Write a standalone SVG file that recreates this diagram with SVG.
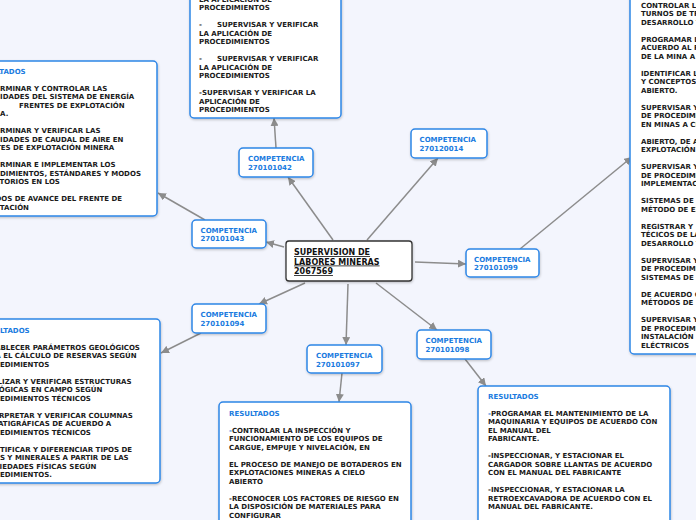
<svg xmlns="http://www.w3.org/2000/svg" width="696" height="520" viewBox="0 0 696 520">
<defs>
<style>
.box{fill:#fff;stroke:#2e86e6;stroke-width:1.5}
.main{fill:#fff;stroke:#333;stroke-width:1.3}
.t{font-family:"DejaVu Sans",Verdana,sans-serif;font-weight:bold;font-size:7px;fill:#1a1a1a}
.b{fill:#1a7be0}
.m{font-family:"DejaVu Sans",Verdana,sans-serif;font-weight:bold;font-size:8px;fill:#111;text-decoration:underline}
.c{stroke:#8c8c8c;stroke-width:1.5;fill:none;marker-end:url(#ah)}
</style>
<marker id="ah" markerUnits="userSpaceOnUse" markerWidth="8" markerHeight="8" refX="8" refY="4" orient="auto">
<path d="M0,0 L8,4 L0,8 z" fill="#8c8c8c"/>
</marker>
<filter id="sh" x="-10%" y="-10%" width="120%" height="130%">
<feDropShadow dx="0.5" dy="1.2" stdDeviation="1" flood-color="#000" flood-opacity="0.22"/>
</filter>
</defs>
<rect width="696" height="520" fill="#f3f5fd"/>

<g id="connectors">
<line class="c" x1="333" y1="240" x2="288" y2="177"/>
<line class="c" x1="284" y1="247" x2="266" y2="242"/>
<line class="c" x1="367" y1="240" x2="438" y2="158"/>
<line class="c" x1="415" y1="262" x2="466" y2="264"/>
<line class="c" x1="305" y1="283" x2="259" y2="304"/>
<line class="c" x1="348" y1="284" x2="346" y2="345"/>
<line class="c" x1="376" y1="283" x2="437" y2="330"/>
<line class="c" x1="276" y1="148" x2="274" y2="118"/>
<line class="c" x1="205" y1="220" x2="158" y2="193"/>
<line class="c" x1="520" y1="249" x2="632" y2="157"/>
<line class="c" x1="201" y1="333" x2="161" y2="353"/>
<line class="c" x1="342" y1="373" x2="339" y2="402"/>
<line class="c" x1="465" y1="359" x2="486" y2="386"/>
</g>

<g id="main">
<rect class="main" x="286" y="241" width="126" height="40" rx="3" filter="url(#sh)"/>
<text class="m" x="294" y="255">SUPERVISION DE</text>
<text class="m" x="294" y="264.5">LABORES MINERAS</text>
<text class="m" x="294" y="274">2067569</text>
</g>

<g id="c042">
<rect class="box" x="239" y="148" width="74" height="29" rx="4" filter="url(#sh)"/>
<text class="t b" x="248" y="161">COMPETENCIA</text>
<text class="t b" x="248" y="169.5">270101042</text>
</g>
<g id="c043">
<rect class="box" x="192" y="220" width="74" height="28" rx="4" filter="url(#sh)"/>
<text class="t b" x="200.5" y="233">COMPETENCIA</text>
<text class="t b" x="200.5" y="241">270101043</text>
</g>
<g id="c014">
<rect class="box" x="411" y="129" width="76" height="29" rx="4" filter="url(#sh)"/>
<text class="t b" x="419.5" y="142.2">COMPETENCIA</text>
<text class="t b" x="419.5" y="151">270120014</text>
</g>
<g id="c099">
<rect class="box" x="466" y="249" width="73" height="28" rx="4" filter="url(#sh)"/>
<text class="t b" x="474" y="262">COMPETENCIA</text>
<text class="t b" x="474" y="270">270101099</text>
</g>
<g id="c094">
<rect class="box" x="192" y="304" width="74" height="29" rx="4" filter="url(#sh)"/>
<text class="t b" x="200.5" y="317">COMPETENCIA</text>
<text class="t b" x="200.5" y="326">270101094</text>
</g>
<g id="c097">
<rect class="box" x="307" y="345" width="75" height="28" rx="4" filter="url(#sh)"/>
<text class="t b" x="316" y="358">COMPETENCIA</text>
<text class="t b" x="316" y="366.5">270101097</text>
</g>
<g id="c098">
<rect class="box" x="417" y="330" width="74" height="29" rx="4" filter="url(#sh)"/>
<text class="t b" x="425.5" y="343">COMPETENCIA</text>
<text class="t b" x="425.5" y="351.5">270101098</text>
</g>

<g id="r042">
<rect class="box" x="190" y="-20" width="151" height="138" rx="4" filter="url(#sh)"/>
<text class="t" x="199" y="1.5">LA APLICACIÓN DE</text>
<text class="t" x="199" y="10">PROCEDIMIENTOS</text>
<text class="t" x="199" y="27">-</text>
<text class="t" x="217" y="27">SUPERVISAR Y VERIFICAR</text>
<text class="t" x="199" y="35.5">LA APLICACIÓN DE</text>
<text class="t" x="199" y="44">PROCEDIMIENTOS</text>
<text class="t" x="199" y="61">-</text>
<text class="t" x="217" y="61">SUPERVISAR Y VERIFICAR</text>
<text class="t" x="199" y="69.5">LA APLICACIÓN DE</text>
<text class="t" x="199" y="78">PROCEDIMIENTOS</text>
<text class="t" x="199" y="95">-SUPERVISAR Y VERIFICAR LA</text>
<text class="t" x="199" y="103.5">APLICACIÓN DE</text>
<text class="t" x="199" y="112">PROCEDIMIENTOS</text>
</g>

<g id="r043">
<rect class="box" x="-40" y="61" width="197" height="155" rx="4" filter="url(#sh)"/>
<text class="t b" x="-25" y="73.5">RESULTADOS</text>
<text class="t" x="-23" y="90.5">-DETERMINAR Y CONTROLAR LAS</text>
<text class="t" x="-25.5" y="99">NECESIDADES DEL SISTEMA DE ENERGÍA</text>
<text class="t" x="-30" y="107.5">EN</text>
<text class="t" x="19" y="107.5">FRENTES DE EXPLOTACIÓN</text>
<text class="t" x="-25.5" y="116">MINERA.</text>
<text class="t" x="-23" y="133">-DETERMINAR Y VERIFICAR LAS</text>
<text class="t" x="-25.5" y="141.5">NECESIDADES DE CAUDAL DE AIRE EN</text>
<text class="t" x="-24.8" y="150">FRENTES DE EXPLOTACIÓN MINERA</text>
<text class="t" x="-23" y="167">-DETERMINAR E IMPLEMENTAR LOS</text>
<text class="t" x="-26.4" y="175.5">PROCEDIMIENTOS, ESTÁNDARES Y MODOS</text>
<text class="t" x="-26.7" y="184">OPERATORIOS EN LOS</text>
<text class="t" x="-27" y="201">MÉTODOS DE AVANCE DEL FRENTE DE</text>
<text class="t" x="-25.7" y="209.5">EXPLOTACIÓN</text>
</g>

<g id="r099">
<rect class="box" x="630" y="-20" width="100" height="374" rx="4" filter="url(#sh)"/>
<text class="t" x="641" y="7.5">CONTROLAR LOS</text>
<text class="t" x="641" y="16">TURNOS DE TRABAJO</text>
<text class="t" x="641" y="24.5">DESARROLLO Y</text>
<text class="t" x="641" y="41.5">PROGRAMAR LAS</text>
<text class="t" x="641" y="50">ACUERDO AL PLAN</text>
<text class="t" x="641" y="58.5">DE LA MINA A CIELO</text>
<text class="t" x="641" y="75.5">IDENTIFICAR LOS</text>
<text class="t" x="641" y="84">Y CONCEPTOS DE</text>
<text class="t" x="641" y="92.5">ABIERTO.</text>
<text class="t" x="641" y="109.5">SUPERVISAR Y VERIFICAR</text>
<text class="t" x="641" y="118">DE PROCEDIMIENTOS</text>
<text class="t" x="641" y="126.5">EN MINAS A CIELO</text>
<text class="t" x="641" y="143.5">ABIERTO, DE ACUERDO</text>
<text class="t" x="641" y="152">EXPLOTACIÓN</text>
<text class="t" x="641" y="169">SUPERVISAR Y VERIFICAR</text>
<text class="t" x="641" y="177.5">DE PROCEDIMIENTOS</text>
<text class="t" x="641" y="186">IMPLEMENTACIÓN</text>
<text class="t" x="641" y="203">SISTEMAS DE</text>
<text class="t" x="641" y="211.5">MÉTODO DE EXPLOTACIÓN</text>
<text class="t" x="641" y="228.5">REGISTRAR Y</text>
<text class="t" x="641" y="237">TÉCICOS DE LA</text>
<text class="t" x="641" y="245.5">DESARROLLO Y</text>
<text class="t" x="641" y="262.5">SUPERVISAR Y VERIFICAR</text>
<text class="t" x="641" y="271">DE PROCEDIMIENTOS</text>
<text class="t" x="641" y="279.5">SISTEMAS DE</text>
<text class="t" x="641" y="296.5">DE ACUERDO CON</text>
<text class="t" x="641" y="305">MÉTODOS DE</text>
<text class="t" x="641" y="322">SUPERVISAR Y VERIFICAR</text>
<text class="t" x="641" y="330.5">DE PROCEDIMIENTOS</text>
<text class="t" x="641" y="339">INSTALACIÓN</text>
<text class="t" x="641" y="347.5">ELÉCTRICOS</text>
</g>

<g id="r094">
<rect class="box" x="-40" y="319" width="200" height="164" rx="4" filter="url(#sh)"/>
<text class="t b" x="-21" y="332.5">RESULTADOS</text>
<text class="t" x="-22" y="349.5">-ESTABLECER PARÁMETROS GEOLÓGICOS</text>
<text class="t" x="-20" y="358">PARA EL CÁLCULO DE RESERVAS SEGÚN</text>
<text class="t" x="-21.6" y="366.5">PROCEDIMIENTOS</text>
<text class="t" x="-22" y="383.5">-ANALIZAR Y VERIFICAR ESTRUCTURAS</text>
<text class="t" x="-22" y="392">GEOLÓGICAS EN CAMPO SEGÚN</text>
<text class="t" x="-21.6" y="400.5">PROCEDIMIENTOS TÉCNICOS</text>
<text class="t" x="-22" y="417.5">-INTERPRETAR Y VERIFICAR COLUMNAS</text>
<text class="t" x="-22" y="426">ESTRATIGRÁFICAS DE ACUERDO A</text>
<text class="t" x="-21.6" y="434.5">PROCEDIMIENTOS TÉCNICOS</text>
<text class="t" x="-22" y="451.5">-IDENTIFICAR Y DIFERENCIAR TIPOS DE</text>
<text class="t" x="-22" y="460">ROCAS Y MINERALES A PARTIR DE LAS</text>
<text class="t" x="-22" y="468.5">PROPIEDADES FÍSICAS SEGÚN</text>
<text class="t" x="-21.6" y="477">PROCEDIMIENTOS.</text>
</g>

<g id="r097">
<rect class="box" x="219" y="402" width="192" height="140" rx="4" filter="url(#sh)"/>
<text class="t b" x="229" y="415.5">RESULTADOS</text>
<text class="t" x="229" y="432.5"><tspan class="b">-</tspan>CONTROLAR LA INSPECCIÓN Y</text>
<text class="t" x="229" y="441">FUNCIONAMIENTO DE LOS EQUIPOS DE</text>
<text class="t" x="229" y="449.5">CARGUE, EMPUJE Y NIVELACIÓN, EN</text>
<text class="t" x="229" y="466.5">EL PROCESO DE MANEJO DE BOTADEROS EN</text>
<text class="t" x="229" y="475">EXPLOTACIONES MINERAS A CIELO</text>
<text class="t" x="229" y="483.5">ABIERTO</text>
<text class="t" x="229" y="500.5">-RECONOCER LOS FACTORES DE RIESGO EN</text>
<text class="t" x="229" y="509">LA DISPOSICIÓN DE MATERIALES PARA</text>
<text class="t" x="229" y="517.5">CONFIGURAR</text>
</g>

<g id="r098">
<rect class="box" x="478" y="386" width="192" height="156" rx="4" filter="url(#sh)"/>
<text class="t b" x="488" y="398.5">RESULTADOS</text>
<text class="t" x="488" y="415.5"><tspan class="b">-</tspan>PROGRAMAR EL MANTENIMIENTO DE LA</text>
<text class="t" x="488" y="424">MAQUINARIA Y EQUIPOS DE ACUERDO CON</text>
<text class="t" x="488" y="432.5">EL MANUAL DEL</text>
<text class="t" x="488" y="441">FABRICANTE.</text>
<text class="t" x="488" y="458">-INSPECCIONAR, Y ESTACIONAR EL</text>
<text class="t" x="488" y="466.5">CARGADOR SOBRE LLANTAS DE ACUERDO</text>
<text class="t" x="488" y="475">CON EL MANUAL DEL FABRICANTE</text>
<text class="t" x="488" y="492">-INSPECCIONAR, Y ESTACIONAR LA</text>
<text class="t" x="488" y="500.5">RETROEXCAVADORA DE ACUERDO CON EL</text>
<text class="t" x="488" y="509">MANUAL DEL FABRICANTE.</text>
</g>
</svg>
